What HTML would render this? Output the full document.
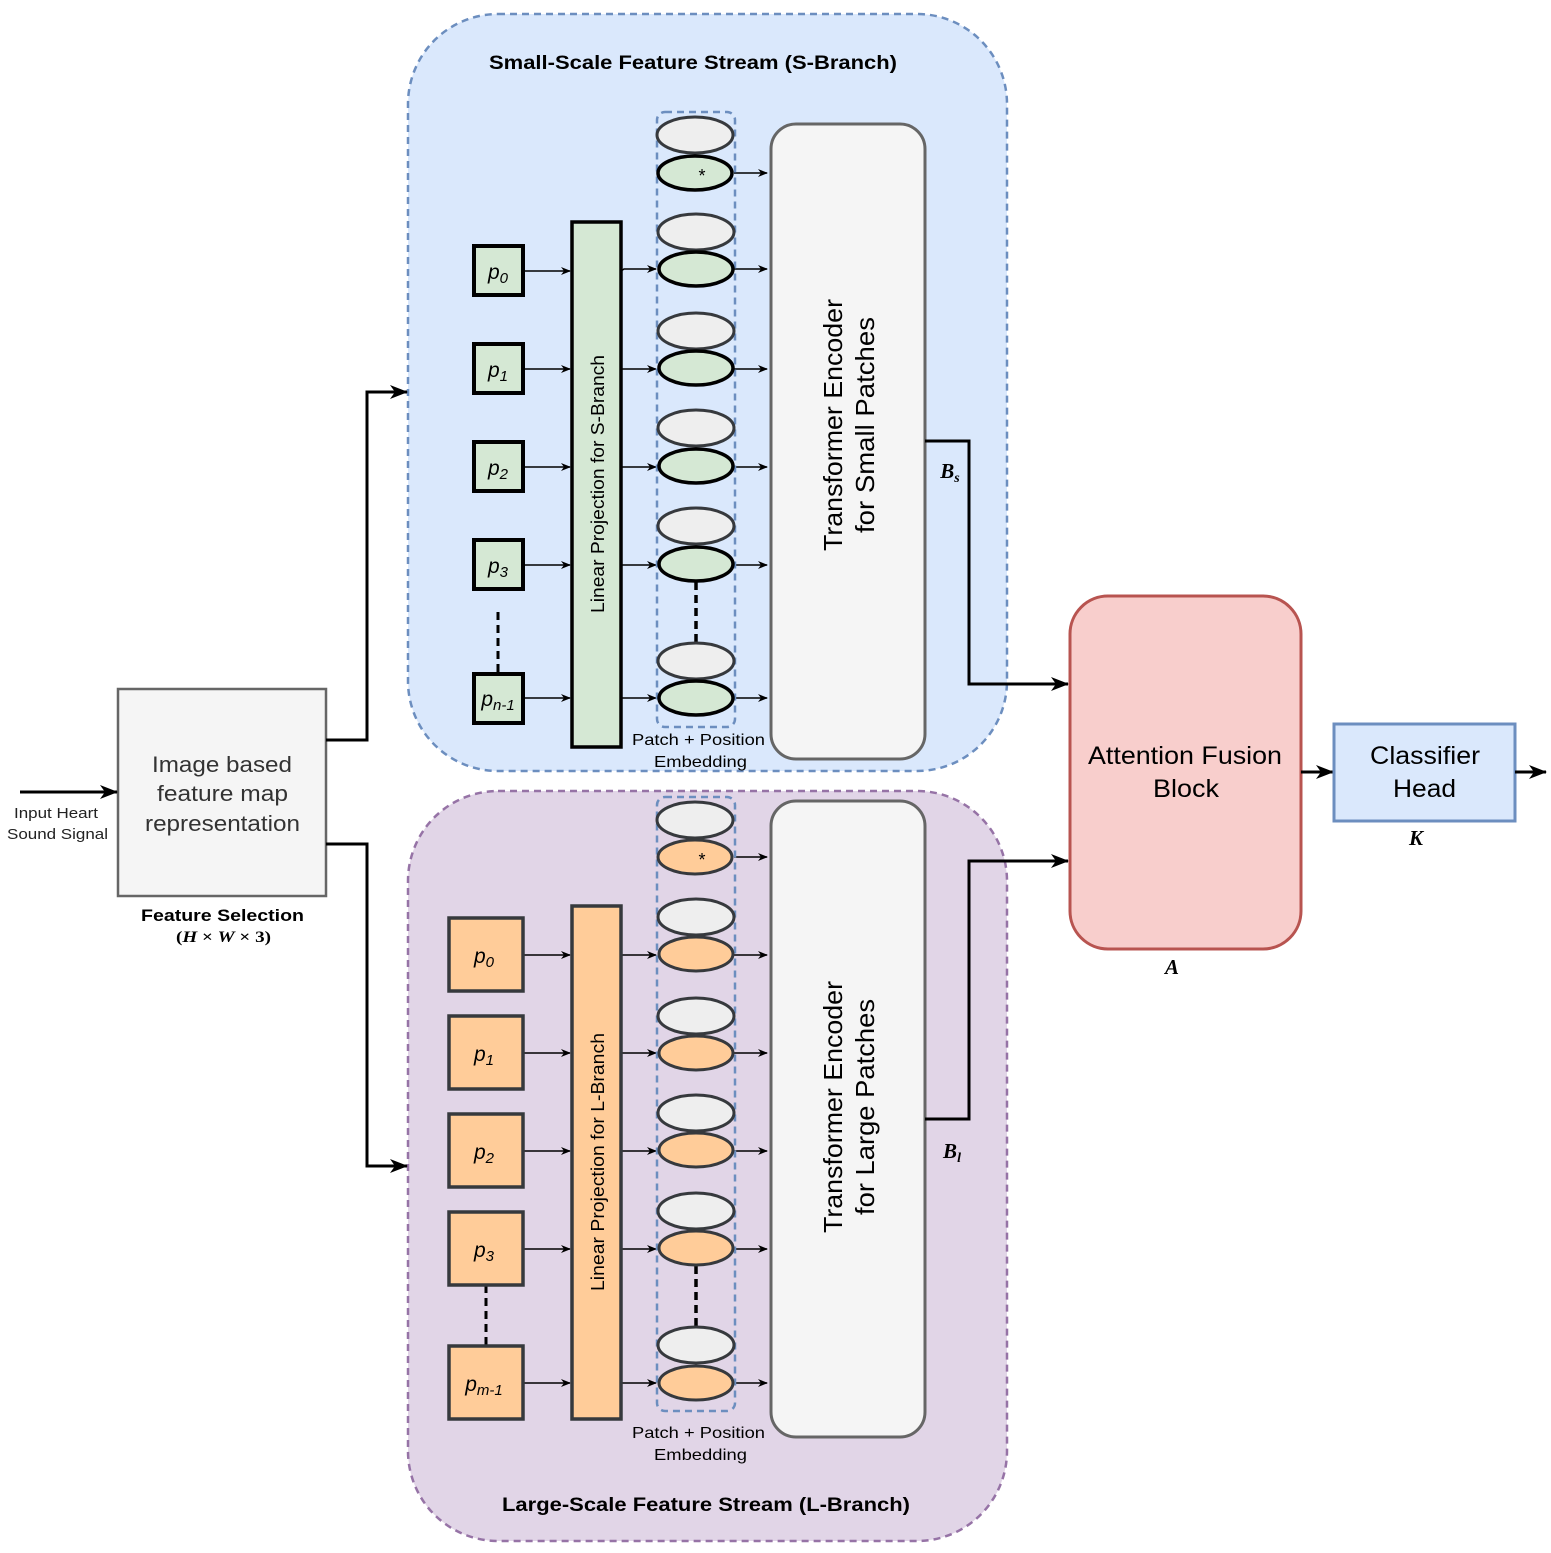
<!DOCTYPE html>
<html><head><meta charset="utf-8"><style>
html,body{margin:0;padding:0;background:#fff}
svg{display:block}
text{font-family:"Liberation Sans",sans-serif}
text.m,tspan.m{font-family:"Liberation Serif",serif}
</style></head><body>
<svg width="1551" height="1553" viewBox="0 0 1551 1553" xmlns="http://www.w3.org/2000/svg">
<defs>
<marker id="a" markerWidth="10" markerHeight="10" refX="9" refY="5" orient="auto" markerUnits="userSpaceOnUse"><path d="M0,1 L10,5 L0,9 L3,5 Z" fill="#000"/></marker>
<marker id="b" markerWidth="18" markerHeight="16" refX="17" refY="8" orient="auto" markerUnits="userSpaceOnUse"><path d="M0,1 L18,8 L0,15 L5,8 Z" fill="#000"/></marker>
</defs>

<rect x="408" y="14" width="599" height="757" rx="90" fill="#dae8fc" stroke="#6c8ebf" stroke-width="2.5" stroke-dasharray="7,5"/>
<rect x="408" y="791" width="599" height="750" rx="90" fill="#e1d5e7" stroke="#9673a6" stroke-width="2.5" stroke-dasharray="7,5"/>
<text x="489" y="69" font-size="19" font-weight="bold" textLength="408" lengthAdjust="spacingAndGlyphs">Small-Scale Feature Stream (S-Branch)</text>
<text x="502" y="1511" font-size="19" font-weight="bold" textLength="408" lengthAdjust="spacingAndGlyphs">Large-Scale Feature Stream (L-Branch)</text>

<rect x="118" y="689" width="208" height="207" fill="#f5f5f5" stroke="#666" stroke-width="2.5"/>
<text font-size="22" fill="#333"><tspan x="152" y="772" textLength="140" lengthAdjust="spacingAndGlyphs">Image based</tspan><tspan x="157" y="801" textLength="131" lengthAdjust="spacingAndGlyphs">feature map</tspan><tspan x="145" y="831" textLength="155" lengthAdjust="spacingAndGlyphs">representation</tspan></text>
<text x="141" y="921" font-size="17" font-weight="bold" textLength="163" lengthAdjust="spacingAndGlyphs">Feature Selection</text>
<text class="m" x="176" y="942" font-size="16" font-weight="bold" textLength="95" lengthAdjust="spacingAndGlyphs">(<tspan font-style="italic">H</tspan> × <tspan font-style="italic">W</tspan> × 3)</text>
<line x1="20" y1="792" x2="117" y2="792" stroke="#000" stroke-width="3" marker-end="url(#b)"/>
<text font-size="15" fill="#222"><tspan x="14" y="818" textLength="84" lengthAdjust="spacingAndGlyphs">Input Heart</tspan><tspan x="7" y="839" textLength="101" lengthAdjust="spacingAndGlyphs">Sound Signal</tspan></text>
<polyline points="326,740 367,740 367,392 407,392" fill="none" stroke="#000" stroke-width="3" marker-end="url(#b)"/>
<polyline points="326,844 367,844 367,1166 407,1166" fill="none" stroke="#000" stroke-width="3" marker-end="url(#b)"/>

<g stroke="#000" stroke-width="1.5">
<line x1="523" y1="271" x2="570" y2="271" marker-end="url(#a)"/>
<line x1="523" y1="369" x2="570" y2="369" marker-end="url(#a)"/>
<line x1="523" y1="467" x2="570" y2="467" marker-end="url(#a)"/>
<line x1="523" y1="565" x2="570" y2="565" marker-end="url(#a)"/>
<line x1="523" y1="698" x2="570" y2="698" marker-end="url(#a)"/>
<polyline points="621,271 624,269 656,269" fill="none" marker-end="url(#a)"/>
<line x1="621" y1="369" x2="656" y2="369" marker-end="url(#a)"/>
<line x1="621" y1="467" x2="656" y2="467" marker-end="url(#a)"/>
<line x1="621" y1="565" x2="656" y2="565" marker-end="url(#a)"/>
<line x1="621" y1="698" x2="656" y2="698" marker-end="url(#a)"/>
<line x1="734" y1="173" x2="767" y2="173" marker-end="url(#a)"/>
<line x1="734" y1="269" x2="767" y2="269" marker-end="url(#a)"/>
<line x1="734" y1="369" x2="767" y2="369" marker-end="url(#a)"/>
<line x1="734" y1="467" x2="767" y2="467" marker-end="url(#a)"/>
<line x1="734" y1="565" x2="767" y2="565" marker-end="url(#a)"/>
<line x1="734" y1="698" x2="767" y2="698" marker-end="url(#a)"/>
</g>
<g fill="#d5e8d4" stroke="#000" stroke-width="4">
<rect x="474" y="246" width="49" height="49"/>
<rect x="474" y="344" width="49" height="49"/>
<rect x="474" y="442" width="49" height="49"/>
<rect x="474" y="540" width="49" height="49"/>
<rect x="474" y="674" width="49" height="49"/>
<rect x="572" y="222" width="49" height="525" stroke-width="3.5"/>
</g>
<line x1="498" y1="612" x2="498" y2="672" stroke="#000" stroke-width="3" stroke-dasharray="8,5"/>
<g font-size="21" font-style="italic" text-anchor="middle">
<text x="498" y="279">p<tspan font-size="15" dy="4">0</tspan></text>
<text x="498" y="377">p<tspan font-size="15" dy="4">1</tspan></text>
<text x="498" y="475">p<tspan font-size="15" dy="4">2</tspan></text>
<text x="498" y="573">p<tspan font-size="15" dy="4">3</tspan></text>
<text x="498" y="706">p<tspan font-size="15" dy="4">n-1</tspan></text>
</g>
<text transform="translate(604,484) rotate(-90)" x="-129" font-size="18" textLength="258" lengthAdjust="spacingAndGlyphs">Linear Projection for S-Branch</text>
<rect x="657" y="112" width="78" height="615" rx="8" fill="none" stroke="#6c8ebf" stroke-width="2.5" stroke-dasharray="7,5"/>
<line x1="696" y1="582" x2="696" y2="643" stroke="#000" stroke-width="3.5" stroke-dasharray="8,5"/>
<g fill="#eeeeee" stroke="#36393d" stroke-width="3">
<ellipse cx="695" cy="135" rx="38" ry="18"/>
<ellipse cx="696" cy="232" rx="38" ry="18"/>
<ellipse cx="696" cy="331" rx="38" ry="18"/>
<ellipse cx="696" cy="428" rx="38" ry="18"/>
<ellipse cx="696" cy="526" rx="38" ry="18"/>
<ellipse cx="696" cy="661" rx="38" ry="18"/>
</g>
<g fill="#d5e8d4" stroke="#000" stroke-width="3.5">
<ellipse cx="695" cy="173" rx="37" ry="17"/>
<ellipse cx="696" cy="269" rx="37" ry="17"/>
<ellipse cx="696" cy="368" rx="37" ry="17"/>
<ellipse cx="696" cy="466" rx="37" ry="17"/>
<ellipse cx="696" cy="564" rx="37" ry="17"/>
<ellipse cx="696" cy="698" rx="37" ry="17"/>
</g>
<text x="702" y="182" font-size="18" text-anchor="middle">*</text>
<text font-size="16"><tspan x="632" y="745" textLength="133" lengthAdjust="spacingAndGlyphs">Patch + Position</tspan><tspan x="654" y="767" textLength="93" lengthAdjust="spacingAndGlyphs">Embedding</tspan></text>
<rect x="771" y="124" width="154" height="635" rx="25" fill="#f5f5f5" stroke="#666" stroke-width="3"/>
<text transform="translate(848,425) rotate(-90)" font-size="26"><tspan x="-126" dy="-6" textLength="252" lengthAdjust="spacingAndGlyphs">Transformer Encoder</tspan><tspan x="-108" dy="32" textLength="216" lengthAdjust="spacingAndGlyphs">for Small Patches</tspan></text>
<polyline points="925,441 969,441 969,684 1068,684" fill="none" stroke="#000" stroke-width="3" marker-end="url(#b)"/>
<text class="m" x="950" y="478" font-size="21" font-weight="bold" font-style="italic" text-anchor="middle">B<tspan class="m" font-size="14" dy="4">s</tspan></text>

<g stroke="#000" stroke-width="1.5">
<line x1="523" y1="955" x2="570" y2="955" marker-end="url(#a)"/>
<line x1="523" y1="1053" x2="570" y2="1053" marker-end="url(#a)"/>
<line x1="523" y1="1151" x2="570" y2="1151" marker-end="url(#a)"/>
<line x1="523" y1="1249" x2="570" y2="1249" marker-end="url(#a)"/>
<line x1="523" y1="1383" x2="570" y2="1383" marker-end="url(#a)"/>
<line x1="621" y1="955" x2="656" y2="955" marker-end="url(#a)"/>
<line x1="621" y1="1053" x2="656" y2="1053" marker-end="url(#a)"/>
<line x1="621" y1="1151" x2="656" y2="1151" marker-end="url(#a)"/>
<line x1="621" y1="1249" x2="656" y2="1249" marker-end="url(#a)"/>
<line x1="621" y1="1383" x2="656" y2="1383" marker-end="url(#a)"/>
<line x1="734" y1="857" x2="767" y2="857" marker-end="url(#a)"/>
<line x1="734" y1="955" x2="767" y2="955" marker-end="url(#a)"/>
<line x1="734" y1="1053" x2="767" y2="1053" marker-end="url(#a)"/>
<line x1="734" y1="1151" x2="767" y2="1151" marker-end="url(#a)"/>
<line x1="734" y1="1249" x2="767" y2="1249" marker-end="url(#a)"/>
<line x1="734" y1="1383" x2="767" y2="1383" marker-end="url(#a)"/>
</g>
<line x1="486" y1="1285" x2="486" y2="1346" stroke="#000" stroke-width="3" stroke-dasharray="8,5"/>
<g fill="#ffcc99" stroke="#36393d" stroke-width="3.5">
<rect x="449" y="918" width="74" height="73"/>
<rect x="449" y="1016" width="74" height="73"/>
<rect x="449" y="1114" width="74" height="73"/>
<rect x="449" y="1212" width="74" height="73"/>
<rect x="449" y="1346" width="74" height="73"/>
<rect x="572" y="906" width="49" height="513"/>
</g>
<g font-size="21" font-style="italic" text-anchor="middle">
<text x="484" y="963">p<tspan font-size="15" dy="4">0</tspan></text>
<text x="484" y="1061">p<tspan font-size="15" dy="4">1</tspan></text>
<text x="484" y="1159">p<tspan font-size="15" dy="4">2</tspan></text>
<text x="484" y="1257">p<tspan font-size="15" dy="4">3</tspan></text>
<text x="484" y="1391">p<tspan font-size="15" dy="4">m-1</tspan></text>
</g>
<text transform="translate(604,1162) rotate(-90)" x="-129" font-size="18" textLength="258" lengthAdjust="spacingAndGlyphs">Linear Projection for L-Branch</text>
<rect x="657" y="797" width="78" height="614" rx="8" fill="none" stroke="#6c8ebf" stroke-width="2.5" stroke-dasharray="7,5"/>
<line x1="696" y1="1266" x2="696" y2="1327" stroke="#000" stroke-width="3.5" stroke-dasharray="8,5"/>
<g fill="#eeeeee" stroke="#36393d" stroke-width="3">
<ellipse cx="695" cy="820" rx="38" ry="18"/>
<ellipse cx="696" cy="917" rx="38" ry="18"/>
<ellipse cx="696" cy="1016" rx="38" ry="18"/>
<ellipse cx="696" cy="1113" rx="38" ry="18"/>
<ellipse cx="696" cy="1211" rx="38" ry="18"/>
<ellipse cx="696" cy="1345" rx="38" ry="18"/>
</g>
<g fill="#ffcc99" stroke="#36393d" stroke-width="3">
<ellipse cx="695" cy="857" rx="37" ry="17"/>
<ellipse cx="696" cy="954" rx="37" ry="17"/>
<ellipse cx="696" cy="1053" rx="37" ry="17"/>
<ellipse cx="696" cy="1150" rx="37" ry="17"/>
<ellipse cx="696" cy="1248" rx="37" ry="17"/>
<ellipse cx="696" cy="1383" rx="37" ry="17"/>
</g>
<text x="702" y="866" font-size="18" text-anchor="middle">*</text>
<text font-size="16"><tspan x="632" y="1438" textLength="133" lengthAdjust="spacingAndGlyphs">Patch + Position</tspan><tspan x="654" y="1460" textLength="93" lengthAdjust="spacingAndGlyphs">Embedding</tspan></text>
<rect x="771" y="801" width="154" height="636" rx="25" fill="#f5f5f5" stroke="#666" stroke-width="3"/>
<text transform="translate(848,1107) rotate(-90)" font-size="26"><tspan x="-126" dy="-6" textLength="252" lengthAdjust="spacingAndGlyphs">Transformer Encoder</tspan><tspan x="-108" dy="32" textLength="216" lengthAdjust="spacingAndGlyphs">for Large Patches</tspan></text>
<polyline points="925,1119 969,1119 969,861 1068,861" fill="none" stroke="#000" stroke-width="3" marker-end="url(#b)"/>
<text class="m" x="952" y="1158" font-size="21" font-weight="bold" font-style="italic" text-anchor="middle">B<tspan class="m" font-size="14" dy="4">l</tspan></text>

<rect x="1070" y="596" width="231" height="353" rx="38" fill="#f8cecc" stroke="#b85450" stroke-width="3"/>
<text font-size="25"><tspan x="1088" y="764" textLength="194" lengthAdjust="spacingAndGlyphs">Attention Fusion</tspan><tspan x="1153" y="797" textLength="66" lengthAdjust="spacingAndGlyphs">Block</tspan></text>
<text class="m" x="1172" y="974" font-size="21" font-weight="bold" font-style="italic" text-anchor="middle">A</text>
<line x1="1301" y1="772" x2="1333" y2="772" stroke="#000" stroke-width="3" marker-end="url(#b)"/>
<rect x="1334" y="724" width="181" height="97" fill="#dae8fc" stroke="#6c8ebf" stroke-width="3"/>
<text font-size="25"><tspan x="1370" y="764" textLength="110" lengthAdjust="spacingAndGlyphs">Classifier</tspan><tspan x="1393" y="797" textLength="63" lengthAdjust="spacingAndGlyphs">Head</tspan></text>
<text class="m" x="1416" y="845" font-size="21" font-weight="bold" font-style="italic" text-anchor="middle">K</text>
<line x1="1515" y1="772" x2="1546" y2="772" stroke="#000" stroke-width="3" marker-end="url(#b)"/>
</svg>
</body></html>
